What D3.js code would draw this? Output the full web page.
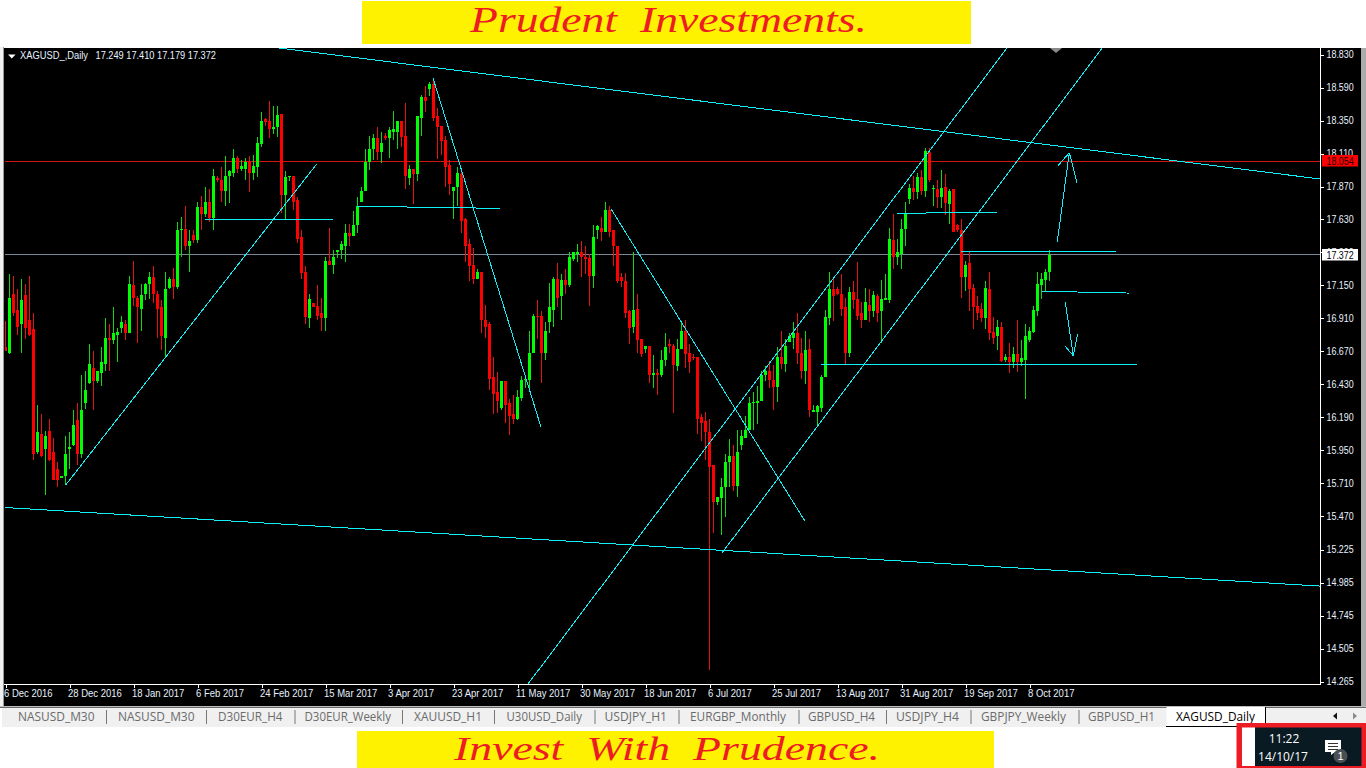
<!DOCTYPE html>
<html>
<head>
<meta charset="utf-8">
<script src="https://cdn.jsdelivr.net/npm/d3@7/dist/d3.min.js"></script>
<style>
html,body{margin:0;padding:0;background:#fff;overflow:hidden}
svg{display:block}
text{font-family:"Liberation Sans",Arial,sans-serif}
</style>
</head>
<body>
<svg id="c" width="1366" height="768"></svg>
<script>
const symbolTitle = "XAGUSD_,Daily";
const ohlcTitle = "17.249 17.410 17.179 17.372";
const topBanner = "Prudent  Investments.";
const bottomBanner = "Invest  With  Prudence.";

const opens = [
16.70,16.66,17.09,16.97,16.87,17.08,16.90,16.83,15.94,16.07,
15.96,16.09,15.94,15.81,15.75,15.76,15.96,15.99,16.17,15.92,
16.29,16.44,16.55,16.45,16.51,16.58,16.77,16.75,16.79,16.84,
16.87,16.80,17.15,17.06,16.98,17.09,17.16,17.21,17.09,16.99,
16.77,17.13,17.20,17.14,17.55,17.56,17.44,17.52,17.48,17.72,
17.67,17.76,17.64,17.93,17.92,17.84,17.95,17.97,18.08,18.00,
18.00,18.05,17.97,18.01,18.18,18.36,18.35,18.29,18.30,18.40,
17.81,17.94,17.95,17.77,17.50,17.25,16.91,17.02,17.00,16.95,
16.91,17.33,17.30,17.39,17.41,17.44,17.53,17.51,17.59,17.76,
17.84,18.05,18.14,18.22,18.12,18.24,18.22,18.27,18.27,18.35,
18.24,17.93,18.00,17.96,18.37,18.52,18.58,18.62,18.38,18.31,
18.21,18.03,17.84,17.87,17.96,17.63,17.45,17.30,17.20,17.25,
16.90,16.87,16.48,16.37,16.26,16.45,16.29,16.21,16.18,16.33,
16.46,16.46,16.66,16.93,16.93,16.66,16.88,16.97,17.20,17.07,
17.19,17.15,17.34,17.38,17.39,17.36,17.35,17.22,17.55,17.57,
17.54,17.70,17.55,17.44,17.21,17.18,16.96,16.85,16.98,16.76,
16.69,16.71,16.50,16.51,16.50,16.61,16.72,16.71,16.56,16.69,
16.82,16.66,16.63,16.63,16.19,16.16,16.08,15.84,15.57,15.60,
15.68,15.86,15.91,15.69,15.99,16.04,16.10,16.29,16.29,16.31,
16.50,16.53,16.46,16.41,16.63,16.58,16.74,16.77,16.80,16.66,
16.53,16.69,16.23,16.23,16.26,16.48,16.91,17.12,17.12,17.09,
16.99,16.66,17.10,17.05,16.95,16.90,17.01,16.96,17.07,16.96,
17.04,17.04,17.48,17.36,17.38,17.56,17.78,17.86,17.83,17.94,
17.84,18.12,17.85,17.85,17.79,17.87,17.74,17.85,17.59,17.55,
17.21,17.31,17.13,17.00,16.98,16.91,17.12,16.81,16.78,16.85,
16.61,16.63,16.59,16.65,16.59,16.61,16.75,16.81,16.96,17.15,
17.19,17.249];

const highs = [
16.89,17.23,17.22,17.12,17.20,17.16,17.22,16.95,16.28,16.21,
16.09,16.18,16.04,15.86,15.76,16.05,16.08,16.24,16.29,16.50,
16.53,16.72,16.67,16.53,16.70,16.91,16.87,16.99,16.84,16.93,
16.90,17.22,17.33,17.07,17.16,17.17,17.25,17.29,17.11,17.04,
17.25,17.21,17.28,17.61,17.65,17.73,17.55,17.55,17.76,17.80,
17.87,17.85,18.00,17.95,18.01,18.09,17.99,18.14,18.09,18.06,
18.08,18.09,18.10,18.23,18.41,18.37,18.49,18.46,18.46,18.40,
17.98,17.95,17.95,17.79,17.55,17.29,17.09,17.02,17.15,17.06,
17.36,17.57,17.41,17.41,17.47,17.60,17.60,17.69,17.79,17.87,
18.14,18.24,18.25,18.30,18.27,18.26,18.30,18.42,18.35,18.35,
18.48,18.03,18.00,18.38,18.54,18.60,18.63,18.65,18.44,18.31,
18.24,18.06,17.87,18.01,18.00,17.64,17.49,17.42,17.27,17.25,
17.01,16.88,16.63,16.52,16.45,16.45,16.32,16.35,16.39,16.49,
16.48,16.82,16.94,17.04,16.96,16.88,17.17,17.21,17.31,17.23,
17.27,17.39,17.39,17.45,17.47,17.44,17.38,17.59,17.59,17.65,
17.76,17.73,17.55,17.44,17.24,17.24,16.97,17.39,17.09,16.76,
16.71,16.71,16.64,16.54,16.68,16.80,16.76,16.72,16.76,16.88,
16.90,16.72,16.65,16.63,16.21,16.23,16.18,15.84,15.61,15.75,
15.92,16.03,15.99,16.10,16.10,16.20,16.34,16.37,16.42,16.53,
16.56,16.60,16.57,16.70,16.82,16.76,16.80,16.88,16.95,16.77,
16.82,16.76,16.28,16.28,16.50,16.97,17.25,17.20,17.14,17.23,
17.06,17.14,17.18,17.32,17.03,17.13,17.12,17.11,17.09,17.19,
17.23,17.57,17.67,17.49,17.63,17.76,17.89,17.95,17.97,17.99,
18.15,18.15,17.88,17.92,17.99,17.96,17.85,17.85,17.60,17.63,
17.33,17.39,17.16,17.07,17.02,17.18,17.25,16.92,16.90,16.88,
16.65,16.73,16.70,16.90,16.75,16.87,16.85,17.00,17.25,17.24,
17.27,17.410];

const lows = [
16.67,16.65,16.93,16.79,16.66,16.76,16.78,15.88,15.92,15.90,
15.62,15.87,15.73,15.68,15.75,15.70,15.81,15.98,15.84,15.89,
16.25,16.43,16.24,16.44,16.42,16.53,16.53,16.72,16.59,16.80,
16.75,16.80,17.00,16.73,16.82,17.04,17.05,17.02,16.77,16.68,
16.63,17.12,17.05,17.12,17.36,17.41,17.25,17.46,17.46,17.55,
17.65,17.61,17.55,17.90,17.76,17.73,17.75,17.94,17.97,17.98,
17.92,17.83,17.92,17.94,18.16,18.31,18.22,18.25,18.23,17.68,
17.63,17.91,17.70,17.46,17.20,16.87,16.84,16.99,16.90,16.82,
16.82,17.30,17.23,17.35,17.34,17.32,17.44,17.51,17.53,17.76,
17.84,17.99,18.06,18.06,18.04,18.21,18.08,18.21,18.14,18.16,
17.85,17.88,17.74,17.91,18.24,18.41,18.53,18.35,18.07,18.10,
17.87,17.81,17.63,17.73,17.53,17.32,17.18,17.16,17.20,16.80,
16.77,16.39,16.21,16.22,16.24,16.15,16.06,16.14,16.17,16.31,
16.40,16.40,16.66,16.76,16.44,16.61,16.80,16.85,16.99,16.90,
17.09,17.14,17.33,17.32,17.21,17.23,17.00,17.13,17.49,17.47,
17.54,17.50,17.29,17.17,17.14,16.91,16.72,16.80,16.66,16.63,
16.66,16.44,16.40,16.35,16.48,16.56,16.66,16.22,16.53,16.69,
16.55,16.51,16.61,16.07,16.02,15.88,14.35,15.35,15.55,15.33,
15.46,15.68,15.65,15.61,15.95,16.04,16.10,16.10,16.14,16.31,
16.45,16.40,16.24,16.30,16.54,16.52,16.74,16.69,16.58,16.47,
16.43,16.19,16.23,16.12,16.23,16.48,16.86,16.89,17.08,16.93,
16.58,16.63,16.98,16.90,16.84,16.90,16.88,16.92,16.88,16.73,
17.04,17.02,17.27,17.30,17.27,17.44,17.74,17.77,17.78,17.81,
17.79,17.90,17.73,17.71,17.71,17.66,17.60,17.54,17.54,17.06,
17.11,16.96,16.83,16.90,16.88,16.83,16.75,16.72,16.68,16.59,
16.59,16.51,16.55,16.52,16.56,16.32,16.74,16.80,16.93,17.05,
17.10,17.179];

const closes = [
16.67,17.06,16.95,16.85,17.04,16.84,16.79,15.92,16.08,15.91,
16.05,15.88,15.73,15.73,15.76,15.92,15.97,16.13,15.92,16.24,
16.39,16.58,16.45,16.53,16.59,16.77,16.75,16.80,16.81,16.88,
16.80,17.16,17.06,16.99,17.08,17.16,17.21,17.09,16.98,16.78,
17.12,17.20,17.14,17.55,17.56,17.44,17.47,17.48,17.72,17.67,
17.76,17.64,17.95,17.92,17.84,17.95,17.98,18.08,18.00,18.02,
18.05,17.97,18.02,18.19,18.35,18.34,18.29,18.30,18.39,17.81,
17.94,17.95,17.76,17.49,17.24,16.92,17.05,16.99,16.93,16.91,
17.33,17.30,17.36,17.41,17.45,17.53,17.51,17.59,17.73,17.84,
18.05,18.14,18.22,18.12,18.19,18.22,18.28,18.29,18.35,18.23,
17.95,18.00,17.96,18.38,18.52,18.49,18.62,18.37,18.30,18.20,
18.01,17.89,17.87,17.97,17.62,17.44,17.29,17.20,17.25,16.90,
16.85,16.47,16.36,16.31,16.45,16.28,16.20,16.18,16.34,16.46,
16.47,16.66,16.93,16.92,16.66,16.82,16.99,17.20,17.06,17.19,
17.15,17.36,17.39,17.39,17.36,17.34,17.22,17.50,17.58,17.54,
17.70,17.54,17.44,17.18,17.18,16.95,16.84,16.97,16.75,16.65,
16.71,16.50,16.51,16.50,16.61,16.70,16.71,16.57,16.69,16.82,
16.65,16.59,16.62,16.18,16.15,16.08,15.83,15.57,15.61,15.68,
15.86,15.91,15.69,15.94,16.05,16.10,16.29,16.30,16.31,16.50,
16.53,16.46,16.41,16.63,16.58,16.71,16.78,16.80,16.66,16.53,
16.68,16.24,16.24,16.27,16.48,16.92,17.12,17.07,17.09,16.98,
16.66,17.10,17.04,16.93,16.90,17.03,16.96,17.08,16.95,17.05,
17.06,17.49,17.36,17.39,17.56,17.68,17.86,17.83,17.94,17.84,
18.13,17.92,17.86,17.79,17.86,17.75,17.84,17.54,17.55,17.21,
17.30,17.12,16.99,16.95,16.91,17.13,16.80,16.77,16.85,16.60,
16.63,16.59,16.65,16.59,16.62,16.78,16.82,16.97,17.16,17.20,
17.25,17.372];

const priceTicks = [18.83,18.59,18.35,18.11,17.87,17.63,17.39,17.15,16.91,16.67,16.43,16.19,15.95,15.71,15.47,15.225,14.985,14.745,14.505,14.265];
const dateLabels = ["6 Dec 2016","28 Dec 2016","18 Jan 2017","6 Feb 2017","24 Feb 2017","15 Mar 2017","3 Apr 2017","23 Apr 2017","11 May 2017","30 May 2017","18 Jun 2017","6 Jul 2017","25 Jul 2017","13 Aug 2017","31 Aug 2017","19 Sep 2017","8 Oct 2017"];
const barsPerLabel = 16;
const alertLevel = 18.054;
const lastPrice = 17.372;

// drawn objects: [bar index, price, bar index, price]
const trendLines = [
 [68.375,18.879,328.625,17.925],
 [0,15.532,328.625,14.960],
 [15.05,15.696,77.8,18.034],
 [106.875,18.66,133.875,16.118],
 [151.4,17.706,199.8,15.436],
 [130.625,14.247,250.375,18.879],
 [179.125,15.201,274.375,18.886],
 [49.875,17.631,81.8,17.631],
 [87.8,17.726,123.625,17.711],
 [222.875,17.675,247.8,17.682],
 [238.875,17.398,277.625,17.393],
 [259.05,17.107,280.875,17.094],
 [203.875,16.575,282.875,16.570],
 // arrow up
 [262.95,17.468,265.95,18.116],
 [263.125,18.022,265.95,18.116],
 [265.95,18.116,267.875,17.898],
 // arrow down
 [264.95,17.027,266.95,16.638],
 [264.875,16.708,266.95,16.638],
 [266.95,16.638,268.05,16.796]
];

const tabLabels = ["NASUSD_M30","NASUSD_M30","D30EUR_H4","D30EUR_Weekly","XAUUSD_H1","U30USD_Daily","USDJPY_H1","EURGBP_Monthly","GBPUSD_H4","USDJPY_H4","GBPJPY_Weekly","GBPUSD_H1","XAGUSD_Daily"];
const tabStarts = [18,118,218,304.5,414,506.5,604.5,690,808,896,981,1088,1176];
const tabWidths = [76.5,76.5,64.5,86.5,68,75.5,62.5,96,67,63,85,67,79];
const tabSeparators = [106,206,294.5,402,494,594.5,678.5,798.5,886,970.5,1078.5];
const clockTime = "11:22";
const clockDate = "14/10/17";

const svg = d3.select("#c");
const L = 5, R = 1320, T = 48, B = 684;

const x = d3.scaleLinear().domain([0, barsPerLabel]).range([5.5, 69.5]);
const y = d3.scaleLinear().domain([18.83, 14.265]).range([54.7, 681.5]);

function squeeze(sel, f) {
  sel.each(function () {
    const w = this.getComputedTextLength();
    d3.select(this).attr("textLength", w * f).attr("lengthAdjust", "spacingAndGlyphs");
  });
}
function fixed(sel, w) { sel.attr("textLength", w).attr("lengthAdjust", "spacingAndGlyphs"); }

// page chrome
svg.append("rect").attr("width",1366).attr("height",768).attr("fill","#fff");
svg.append("rect").attr("x",0).attr("y",47).attr("width",3).attr("height",661).attr("fill","#f0f0f0");
svg.append("rect").attr("x",3).attr("y",47).attr("width",1).attr("height",661).attr("fill","#9a9a9a");
svg.append("rect").attr("x",4).attr("y",48).attr("width",1357).attr("height",658).attr("fill","#000");
svg.append("rect").attr("x",1361).attr("y",48).attr("width",5).attr("height",659).attr("fill","#ababab");

// banners
const yellow = "#fff200", bannerRed = "#ed1c24";
svg.append("rect").attr("x",362).attr("y",1).attr("width",609).attr("height",43).attr("fill",yellow);
svg.append("rect").attr("x",357).attr("y",731).attr("width",637).attr("height",37).attr("fill",yellow);
const bannerFont = '"Liberation Serif","Times New Roman",serif';
svg.append("text").attr("x",470).attr("y",32).attr("xml:space","preserve").style("white-space","pre")
  .style("font-family",bannerFont).style("font-style","italic").attr("font-size",36).attr("fill",bannerRed)
  .text(topBanner).call(fixed,397);
svg.append("text").attr("x",454).attr("y",760).attr("xml:space","preserve").style("white-space","pre")
  .style("font-family",bannerFont).style("font-style","italic").attr("font-size",34).attr("fill",bannerRed)
  .text(bottomBanner).call(fixed,426);

// plot layers
const defs = svg.append("defs");
defs.append("clipPath").attr("id","plot").append("rect").attr("x",L).attr("y",T).attr("width",R-L).attr("height",B-T);

// level lines
const plot = svg.append("g").attr("clip-path","url(#plot)").attr("shape-rendering","crispEdges");
plot.append("line").attr("x1",L).attr("x2",R).attr("y1",Math.floor(y(alertLevel))+.5).attr("y2",Math.floor(y(alertLevel))+.5).attr("stroke","#d01414");
plot.append("line").attr("x1",L).attr("x2",R).attr("y1",Math.floor(y(lastPrice))+.5).attr("y2",Math.floor(y(lastPrice))+.5).attr("stroke","#778899");

// candles
const candles = opens.map((o,i)=>({i,o,h:highs[i],l:lows[i],c:closes[i]}));
const up = d=>d.c>=d.o;
const col = d=>Math.floor(x(d.i));
const cg = plot.append("g");
cg.selectAll("rect.w").data(candles).join("rect").attr("class","w")
  .attr("x",col).attr("width",1)
  .attr("y",d=>Math.round(y(d.h)))
  .attr("height",d=>Math.max(1,Math.round(y(d.l))-Math.round(y(d.h))))
  .attr("fill",d=>up(d)?"#12d812":"#e61414");
cg.selectAll("rect.b").data(candles).join("rect").attr("class","b")
  .attr("x",d=>col(d)-1).attr("width",3)
  .attr("y",d=>Math.round(y(Math.max(d.o,d.c))))
  .attr("height",d=>Math.max(1,Math.round(y(Math.min(d.o,d.c)))-Math.round(y(Math.max(d.o,d.c)))))
  .attr("fill",d=>up(d)?"#00ff00":"#ff0000");

// trend lines
plot.append("g").selectAll("line").data(trendLines).join("line")
  .attr("x1",d=>x(d[0])).attr("y1",d=>y(d[1])).attr("x2",d=>x(d[2])).attr("y2",d=>y(d[3]))
  .attr("stroke","#10f0f8").attr("stroke-width",1);

// frame
svg.append("rect").attr("x",R).attr("y",T).attr("width",1).attr("height",B-T+1).attr("fill","#fff");
svg.append("rect").attr("x",L-1).attr("y",B).attr("width",R-L+2).attr("height",1).attr("fill","#fff");

// price axis
const yAxis = d3.axisRight(y).tickValues(priceTicks).tickSize(3).tickSizeOuter(0).tickPadding(3).tickFormat(d3.format(".3f"));
const gy = svg.append("g").attr("transform",`translate(${R+.5},0)`).call(yAxis);
gy.select(".domain").remove();
gy.selectAll(".tick line").attr("stroke","#fff").attr("shape-rendering","crispEdges");
gy.selectAll("text").attr("fill","#e8f2ff").attr("font-size",10).attr("font-family",'"Liberation Sans",Arial,sans-serif').call(squeeze,0.89);

// time axis
const xAxis = d3.axisBottom(x).tickValues(dateLabels.map((_,i)=>i*barsPerLabel)).tickSize(3).tickSizeOuter(0).tickPadding(3)
  .tickFormat((d,i)=>dateLabels[i]);
const gx = svg.append("g").attr("transform",`translate(0,${B+.5})`).call(xAxis);
gx.select(".domain").remove();
gx.selectAll(".tick line").attr("stroke","#fff").attr("shape-rendering","crispEdges");
gx.selectAll("text").attr("fill","#e8f2ff").attr("font-size",10).attr("text-anchor","start").attr("x",-2).attr("y",5.5)
  .attr("font-family",'"Liberation Sans",Arial,sans-serif').call(squeeze,0.95);

// price badges
function badge(p, fill, tcol) {
  const cy = Math.round(y(p));
  svg.append("rect").attr("x",1322).attr("y",cy-6).attr("width",36).attr("height",11.5).attr("fill",fill);
  svg.append("text").attr("x",1326.5).attr("y",cy+3.5).attr("font-size",10).attr("fill",tcol).text(d3.format(".3f")(p)).call(squeeze,0.89);
}
badge(alertLevel,"#ff0000","#1a0000");
badge(lastPrice,"#ffffff","#000");

// title
svg.append("path").attr("d","M8 54.5 L15.5 54.5 L11.75 58.5 Z").attr("fill","#fff");
svg.append("text").attr("x",20).attr("y",59).attr("font-size",10).attr("fill","#e8f2ff").text(symbolTitle).call(fixed,68);
svg.append("text").attr("x",95.5).attr("y",59).attr("font-size",10).attr("fill","#e8f2ff").text(ohlcTitle).call(fixed,120.5);
svg.append("path").attr("d","M1050 48 L1062 48 L1056 53 Z").attr("fill","#8a8a8a");

// tabs
svg.append("rect").attr("x",0).attr("y",706).attr("width",1366).attr("height",1).attr("fill","#bdbdbd");
svg.append("rect").attr("x",0).attr("y",707).attr("width",1366).attr("height",1).attr("fill","#6a6a6a");
svg.append("rect").attr("x",2).attr("y",708).attr("width",1364).attr("height",19).attr("fill","#f0f0f0");
svg.append("rect").attr("x",1166.5).attr("y",707).attr("width",99).attr("height",20).attr("fill","#fff");
svg.append("rect").attr("x",1265).attr("y",707).attr("width",1).attr("height",20).attr("fill","#000");
svg.append("rect").attr("x",1166).attr("y",726).attr("width",100).attr("height",1).attr("fill","#000");
svg.selectAll("rect.sep").data(tabSeparators).join("rect").attr("class","sep")
  .attr("x",d=>d).attr("y",710).attr("width",1).attr("height",14).attr("fill","#777");
svg.selectAll("text.tab").data(tabLabels).join("text").attr("class","tab")
  .attr("x",(d,i)=>tabStarts[i]).attr("y",721).attr("font-size",12)
  .style("font-family",'"Open Sans","Noto Sans",sans-serif')
  .attr("fill",(d,i)=>i===tabLabels.length-1?"#000":"#6b6b6b")
  .attr("textLength",(d,i)=>tabWidths[i]).attr("lengthAdjust","spacingAndGlyphs")
  .text(d=>d);
svg.append("path").attr("d","M1337 712.5 L1337 719.5 L1333 716 Z").attr("fill","#111");
svg.append("path").attr("d","M1353 712.5 L1353 719.5 L1357 716 Z").attr("fill","#8a8a8a");

// clock box
svg.append("rect").attr("x",1236.5).attr("y",723).attr("width",129.5).attr("height",45).attr("fill","#ed1c24");
svg.append("rect").attr("x",1242).attr("y",727.5).attr("width",13).attr("height",38.5).attr("fill","#fff");
svg.append("rect").attr("x",1255).attr("y",727.5).attr("width",106.5).attr("height",38.5).attr("fill","#0a1a22");
svg.append("text").attr("x",1284).attr("y",743).attr("text-anchor","middle").attr("font-size",12).attr("fill","#fff")
  .style("font-family",'"Open Sans",sans-serif').text(clockTime);
svg.append("text").attr("x",1283).attr("y",761).attr("text-anchor","middle").attr("font-size",12).attr("fill","#fff")
  .style("font-family",'"Open Sans",sans-serif').text(clockDate);
svg.append("path").attr("d","M1325 740 H1341 V752 H1335 L1331 755 V752 H1325 Z").attr("fill","#fff");
svg.selectAll("rect.nl").data([743,746,749]).join("rect").attr("class","nl").attr("x",1328).attr("y",d=>d).attr("width",10).attr("height",1).attr("fill","#333");
svg.append("circle").attr("cx",1340.5).attr("cy",756).attr("r",7).attr("fill","#4a4f52");
svg.append("text").attr("x",1340.5).attr("y",760).attr("text-anchor","middle").attr("font-size",11).attr("fill","#fff").text("1");
</script>
</body>
</html>
